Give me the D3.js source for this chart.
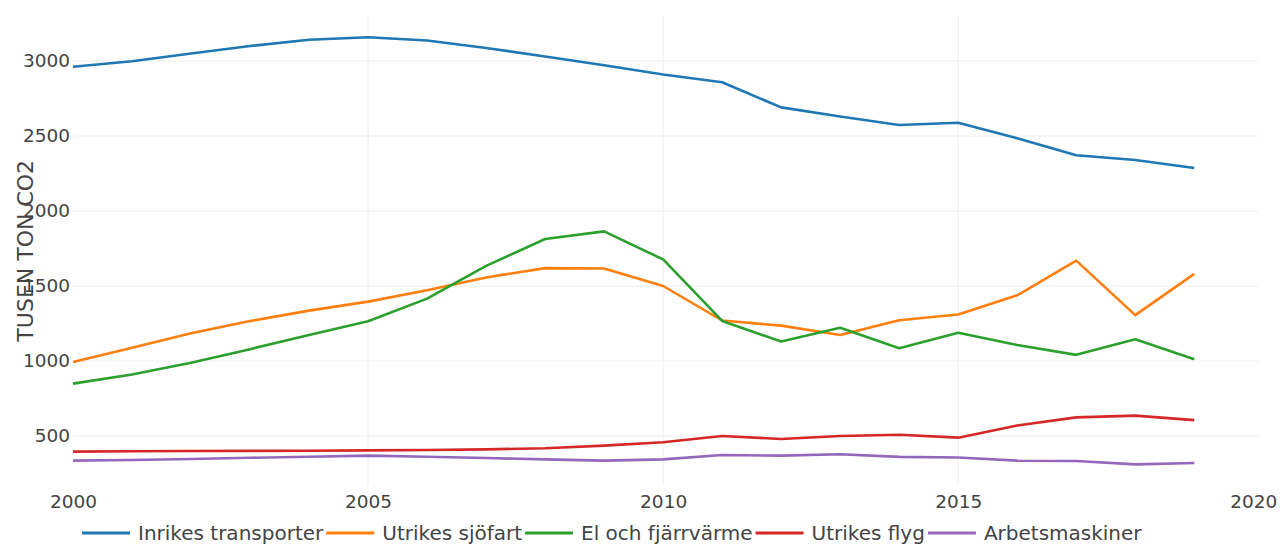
<!DOCTYPE html>
<html>
<head>
<meta charset="utf-8">
<script src="https://cdn.jsdelivr.net/npm/d3@7"></script>
<style>
  html, body { margin: 0; padding: 0; background: #fff; }
  svg { display: block; }
  text { font-family: "DejaVu Sans", Verdana, sans-serif; fill: #444; }
</style>
</head>
<body>
<svg id="chart" width="1286" height="547"></svg>
<script>
// ---- data ----
const years = [2000, 2001, 2002, 2003, 2004, 2005, 2006, 2007, 2008, 2009,
               2010, 2011, 2012, 2013, 2014, 2015, 2016, 2017, 2018, 2019];
const seriesNames = ["Inrikes transporter", "Utrikes sjöfart", "El och fjärrvärme", "Utrikes flyg", "Arbetsmaskiner"];
const inrikesTransporter = [2962, 2998, 3050, 3100, 3142, 3158, 3137, 3087, 3030, 2972, 2910, 2858, 2691, 2630, 2573, 2588, 2485, 2372, 2340, 2287];
const utrikesSjofart     = [993, 1088, 1185, 1266, 1336, 1396, 1472, 1557, 1619, 1617, 1500, 1270, 1236, 1173, 1272, 1310, 1438, 1669, 1306, 1581];
const elOchFjarrvarme    = [849, 910, 989, 1079, 1173, 1265, 1416, 1634, 1813, 1864, 1677, 1267, 1130, 1222, 1085, 1189, 1107, 1041, 1145, 1012];
const utrikesFlyg        = [396, 398, 400, 401, 402, 404, 407, 411, 418, 436, 458, 500, 480, 500, 508, 489, 570, 624, 636, 606];
const arbetsmaskiner     = [336, 340, 347, 355, 362, 369, 362, 353, 344, 336, 344, 373, 369, 378, 361, 357, 336, 333, 311, 320];
const xTicks = [2000, 2005, 2010, 2015, 2020];
const yTicks = [500, 1000, 1500, 2000, 2500, 3000];
const yTitle = "TUSEN TON CO2";
const colors = ["#1f77b4", "#ff7f0e", "#2ca02c", "#d62728", "#9467bd"];

const allSeries = [inrikesTransporter, utrikesSjofart, elOchFjarrvarme, utrikesFlyg, arbetsmaskiner];

// ---- layout ----
const svg = d3.select("#chart");
const plot = { left: 73, right: 1258, top: 15.7, bottom: 485.8 };

const x = d3.scaleLinear().domain([2000, 2020.08]).range([plot.left, plot.right]);
const y = d3.scaleLinear().domain([168, 3302]).range([plot.bottom, plot.top]);

// grid
const grid = svg.append("g");
grid.selectAll("line.h").data(yTicks).join("line")
  .attr("x1", plot.left).attr("x2", plot.right)
  .attr("y1", d => y(d)).attr("y2", d => y(d))
  .attr("stroke", "#eee").attr("stroke-width", 1);
grid.selectAll("line.v").data(xTicks.filter(d => d > 2000 && d < 2020)).join("line")
  .attr("x1", d => x(d)).attr("x2", d => x(d))
  .attr("y1", plot.top).attr("y2", plot.bottom)
  .attr("stroke", "#eee").attr("stroke-width", 1);

// axes
const yAxis = d3.axisLeft(y).tickValues(yTicks).tickSize(0).tickPadding(3).tickFormat(d3.format("d"));
const gy = svg.append("g").attr("transform", `translate(${plot.left},0)`).call(yAxis);
gy.select(".domain").remove();
gy.selectAll("text").style("font-size", "18.5px").attr("fill", "#444");

const xAxis = d3.axisBottom(x).tickValues(xTicks).tickSize(0).tickPadding(9).tickFormat(d3.format("d"));
const gx = svg.append("g").attr("transform", `translate(0,${plot.bottom})`).call(xAxis);
gx.select(".domain").remove();
gx.selectAll("text").style("font-size", "18.5px").attr("fill", "#444");

// y title
svg.append("text")
  .attr("transform", `translate(33,${(plot.top + plot.bottom) / 2}) rotate(-90)`)
  .attr("text-anchor", "middle")
  .style("font-size", "22px")
  .attr("fill", "#444")
  .text(yTitle);

// lines
const line = d3.line().x((d, i) => x(years[i])).y(d => y(d));
svg.append("g").selectAll("path").data(allSeries).join("path")
  .attr("d", d => line(d))
  .attr("fill", "none")
  .attr("stroke", (d, i) => colors[i])
  .attr("stroke-width", 2.6)
  .attr("stroke-linejoin", "round");

// legend
const legend = svg.append("g").attr("transform", "translate(82,533)");
let cx = 0;
seriesNames.forEach((name, i) => {
  const g = legend.append("g").attr("transform", `translate(${cx},0)`);
  g.append("line").attr("x1", 0).attr("x2", 48).attr("y1", 0).attr("y2", 0)
    .attr("stroke", colors[i]).attr("stroke-width", 3);
  const t = g.append("text").attr("x", 56).attr("y", 7)
    .style("font-size", "20px").attr("fill", "#444").text(name);
  cx += 56 + t.node().getComputedTextLength() + 3;
});
</script>
</body>
</html>
